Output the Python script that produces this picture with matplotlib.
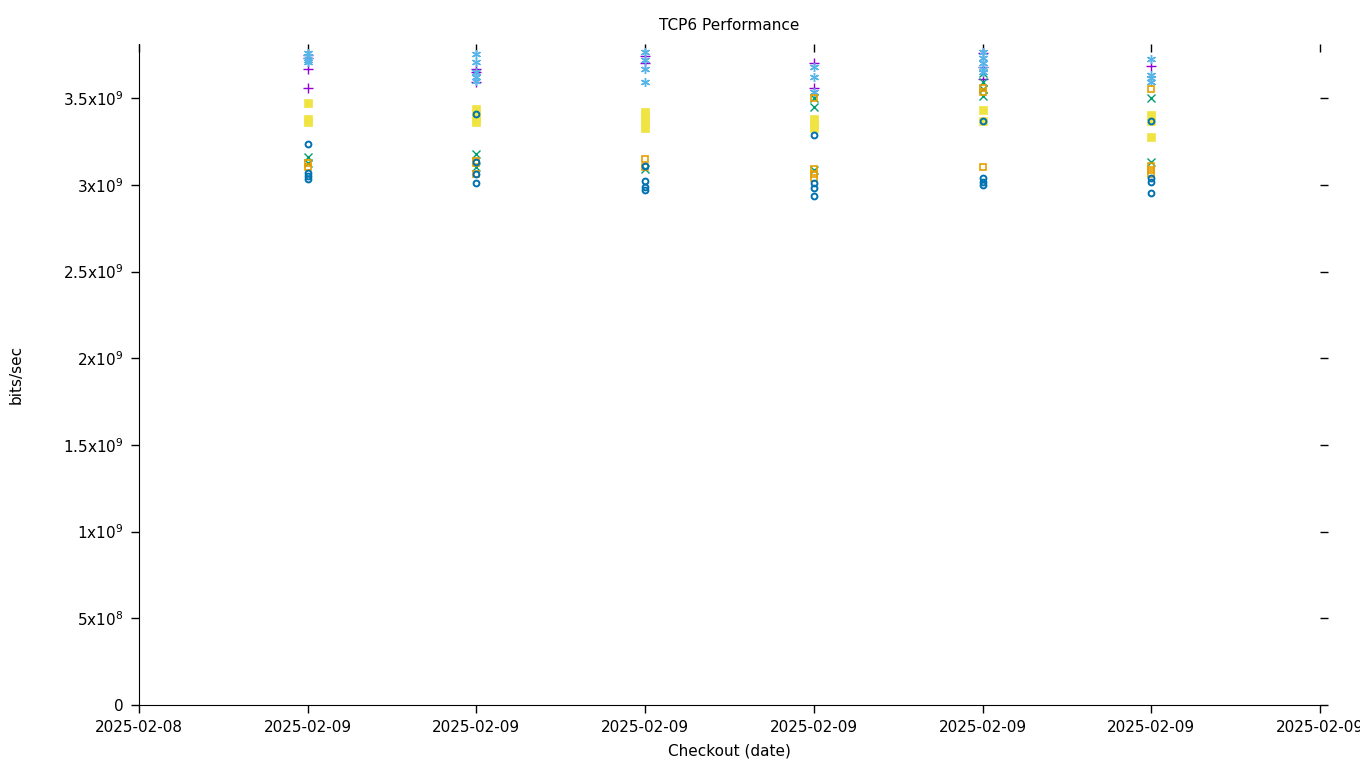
import matplotlib
matplotlib.use("Agg")
import matplotlib.pyplot as plt

# ---- data ----
checkouts = [1, 2, 3, 4, 5, 6]
x_ticks = [0, 1, 2, 3, 4, 5, 6, 7]
x_tick_labels = ['2025-02-08'] + ['2025-02-09'] * 7

plus_vals = [[3.75e9, 3.73e9, 3.67e9, 3.56e9], [3.67e9, 3.65e9, 3.59e9], [3.74e9, 3.70e9],
             [3.70e9, 3.56e9], [3.76e9, 3.68e9, 3.61e9], [3.685e9]]
cross_vals = [[3.16e9, 3.125e9], [3.18e9, 3.10e9], [3.09e9], [3.50e9, 3.45e9, 3.085e9],
              [3.645e9, 3.59e9, 3.55e9, 3.51e9], [3.50e9, 3.13e9]]
star_vals = [[3.76e9, 3.74e9, 3.72e9, 3.71e9], [3.755e9, 3.71e9, 3.65e9, 3.62e9, 3.60e9],
             [3.765e9, 3.72e9, 3.67e9, 3.59e9], [3.68e9, 3.62e9, 3.535e9],
             [3.765e9, 3.73e9, 3.70e9, 3.67e9, 3.65e9], [3.725e9, 3.635e9, 3.615e9, 3.59e9]]
open_sq_vals = [[3.125e9, 3.10e9], [3.14e9, 3.125e9, 3.065e9], [3.15e9, 3.10e9],
                [3.50e9, 3.09e9, 3.06e9, 3.04e9], [3.56e9, 3.535e9, 3.10e9],
                [3.55e9, 3.11e9, 3.085e9, 3.065e9]]
filled_sq_vals = [[3.47e9, 3.38e9, 3.36e9], [3.44e9, 3.41e9, 3.38e9, 3.36e9],
                  [3.42e9, 3.39e9, 3.36e9, 3.33e9], [3.38e9, 3.35e9, 3.33e9],
                  [3.43e9, 3.37e9], [3.40e9, 3.37e9, 3.275e9]]
circle_vals = [[3.235e9, 3.07e9, 3.05e9, 3.035e9], [3.41e9, 3.13e9, 3.06e9, 3.01e9],
               [3.11e9, 3.02e9, 2.99e9, 2.97e9], [3.29e9, 3.01e9, 2.98e9, 2.935e9],
               [3.37e9, 3.04e9, 3.015e9, 3.00e9], [3.37e9, 3.04e9, 3.015e9, 2.955e9]]

y_ticks = [0, 5e8, 1e9, 1.5e9, 2e9, 2.5e9, 3e9, 3.5e9]
y_tick_labels = ['0', '5x10$^{8}$', '1x10$^{9}$', '1.5x10$^{9}$', '2x10$^{9}$',
                 '2.5x10$^{9}$', '3x10$^{9}$', '3.5x10$^{9}$']

# ---- figure ----
fig = plt.figure(figsize=(13.6, 7.68), dpi=100)
ax = fig.add_axes([139/1360, 1 - 705/768, (1320 - 139)/1360, (705 - 44)/768])

series = [
    (plus_vals, '+', '#9400d3', 'full', 6.5, 1.0),
    (cross_vals, 'x', '#009e73', 'full', 5.5, 1.0),
    (star_vals, (6, 2, 0), '#56b4e9', 'full', 6.5, 1.0),
    (open_sq_vals, 's', '#e69f00', 'none', 5.0, 1.2),
    (filled_sq_vals, 's', '#f0e442', 'full', 5.5, 0.5),
    (circle_vals, 'o', '#0072b2', 'none', 4.2, 1.4),
]
for vals, mk, col, fs, ms, mew in series:
    xs, ys = [], []
    for cx, col_vals in zip(checkouts, vals):
        for v in col_vals:
            xs.append(cx)
            ys.append(v)
    ax.plot(xs, ys, linestyle='none', marker=mk, color=col, markersize=ms,
            markeredgewidth=mew, fillstyle=fs)

ax.set_xlim(0, 7)
ax.set_ylim(0, 3.812e9)
ax.set_xticks(x_ticks)
ax.set_xticklabels(x_tick_labels, fontsize=11)
ax.set_yticks(y_ticks)
ax.set_yticklabels(y_tick_labels, fontsize=11)
ax.spines['top'].set_visible(False)
ax.spines['right'].set_visible(False)
ax.tick_params(axis='both', direction='out', length=6, width=1, pad=5)
ax.tick_params(axis='y', right=True)

sec = ax.secondary_xaxis('top')
sec.set_xticks(x_ticks)
sec.tick_params(direction='in', length=6, width=1, labeltop=False)
sec.spines['top'].set_visible(False)

ax.set_title('TCP6 Performance', fontsize=11, pad=10)
ax.set_xlabel('Checkout (date)', fontsize=11, labelpad=6)
ax.set_ylabel('bits/sec', fontsize=11, labelpad=28)

fig.savefig('out.png', dpi=100)
